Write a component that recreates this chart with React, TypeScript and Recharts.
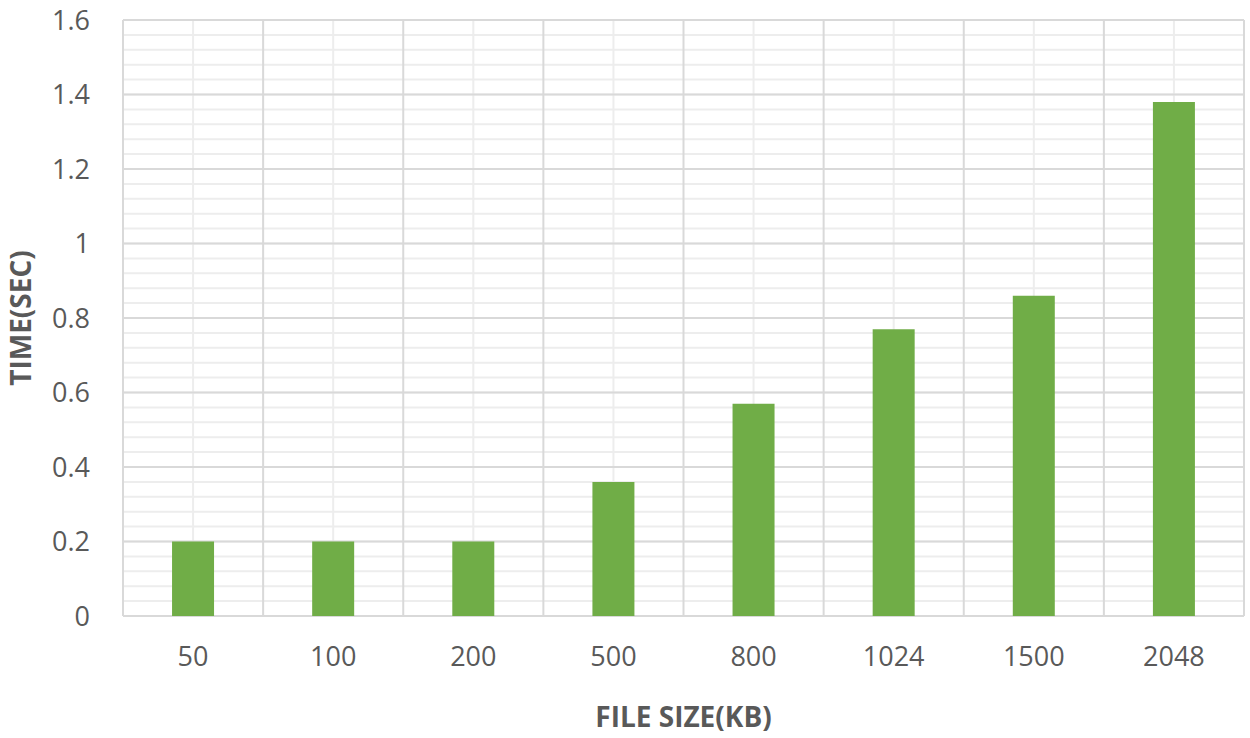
import { BarChart, Bar, XAxis, YAxis, CartesianGrid, Label } from 'recharts';

const fileSizes = ['50', '100', '200', '500', '800', '1024', '1500', '2048'];
const times = [0.2, 0.2, 0.2, 0.36, 0.57, 0.77, 0.86, 1.38];
const majorTicks = [0, 0.2, 0.4, 0.6, 0.8, 1, 1.2, 1.4, 1.6];
const minorTicks = [
  0, 0.04, 0.08, 0.12, 0.16, 0.2, 0.24, 0.28, 0.32, 0.36, 0.4, 0.44, 0.48, 0.52,
  0.56, 0.6, 0.64, 0.68, 0.72, 0.76, 0.8, 0.84, 0.88, 0.92, 0.96, 1, 1.04, 1.08,
  1.12, 1.16, 1.2, 1.24, 1.28, 1.32, 1.36, 1.4, 1.44, 1.48, 1.52, 1.56, 1.6,
];

const data = fileSizes.map((size, i) => ({ size, time: times[i] }));

const textColor = '#595959';
const font = '"Open Sans", sans-serif';

// the axis scale, whether recharts hands over a d3 scale or a wrapper
const scaleOf = (axis: any) => {
  const s = axis?.scale;
  if (!s) return null;
  const fn = typeof s === 'function' ? s : (v: any) => s.map(v);
  const bw = typeof s.bandwidth === 'function' ? s.bandwidth() : 0;
  return { fn, bw };
};

const yLines = (ticks: number[]) => (props: any) => {
  const sc = scaleOf(props?.yAxis);
  if (!sc) return [];
  return ticks.map((t) => sc.fn(t));
};

const xCentres = (props: any) => {
  const sc = scaleOf(props?.xAxis);
  if (!sc) return [];
  return fileSizes.map((c) => sc.fn(c) + sc.bw / 2);
};

const xEdges = (props: any) => {
  const sc = scaleOf(props?.xAxis);
  if (!sc) return [];
  const starts = fileSizes.map((c) => sc.fn(c));
  return [...starts, sc.fn(fileSizes[fileSizes.length - 1]) + sc.bw];
};

export default function App() {
  return (
    <div style={{ position: 'absolute', left: 0, top: 0, background: '#fff' }}>
      <BarChart
        width={1250}
        height={738}
        data={data}
        margin={{ top: 20, right: 6, bottom: 62, left: 0 }}
        barCategoryGap="35%"
      >
        <CartesianGrid
          stroke="#ededed"
          strokeWidth={2}
          horizontalCoordinatesGenerator={yLines(minorTicks)}
          verticalCoordinatesGenerator={xCentres}
        />
        <CartesianGrid
          stroke="#d9d9d9"
          strokeWidth={2}
          horizontalCoordinatesGenerator={yLines(majorTicks)}
          verticalCoordinatesGenerator={xEdges}
        />
        <XAxis
          dataKey="size"
          height={60}
          tickLine={false}
          axisLine={false}
          tickSize={0}
          tickMargin={31}
          tick={{ fill: textColor, fontSize: 27, fontFamily: font }}
        >
          <Label
            content={({ viewBox }: any) => (
              <text
                x={viewBox.x + viewBox.width / 2}
                y={727}
                textAnchor="middle"
                fill={textColor}
                fontSize={28}
                fontWeight="bold"
                fontFamily={font}
              >
                FILE SIZE(KB)
              </text>
            )}
          />
        </XAxis>
        <YAxis
          width={123}
          domain={[0, 1.6]}
          ticks={majorTicks}
          interval={0}
          tickLine={false}
          axisLine={false}
          tickSize={0}
          tickMargin={33}
          tick={{ fill: textColor, fontSize: 27, fontFamily: font }}
        >
          <Label
            content={({ viewBox }: any) => (
              <text
                x={31}
                y={viewBox.y + viewBox.height / 2}
                transform={`rotate(-90, 31, ${viewBox.y + viewBox.height / 2})`}
                textAnchor="middle"
                fill={textColor}
                fontSize={28}
                fontWeight="bold"
                fontFamily={font}
              >
                TIME(SEC)
              </text>
            )}
          />
        </YAxis>
        <Bar dataKey="time" fill="#70ad47" isAnimationActive={false} />
      </BarChart>
    </div>
  );
}
